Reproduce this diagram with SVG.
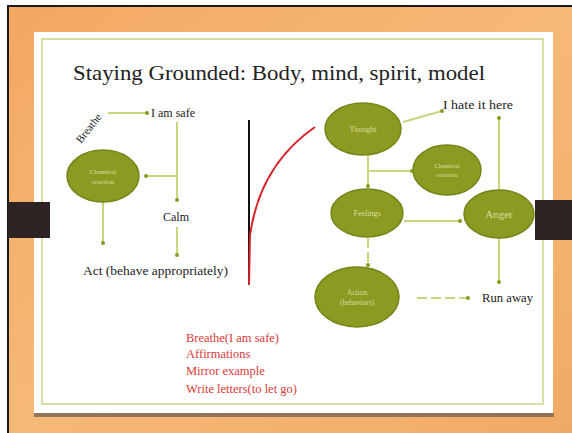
<svg xmlns="http://www.w3.org/2000/svg" width="572" height="433" viewBox="0 0 572 433">
<defs>
<linearGradient id="org" x1="0" y1="0" x2="1" y2="1">
<stop offset="0" stop-color="#f3a862"/>
<stop offset="0.5" stop-color="#f6b878"/>
<stop offset="1" stop-color="#f1aa66"/>
</linearGradient>
<marker id="dot" viewBox="0 0 6 6" refX="3" refY="3" markerWidth="4" markerHeight="4" markerUnits="userSpaceOnUse">
<circle cx="3" cy="3" r="3" fill="#8a9a22"/>
</marker>
<style>
.n{fill:#8c9a22;stroke:#76851a;stroke-width:1.5}
.nt{font-family:"Liberation Serif",serif;fill:#d9dda0;text-anchor:middle}
.c{fill:none;stroke:#c9d67e;stroke-width:2;marker-end:url(#dot)}
.cd{fill:none;stroke:#c9d67e;stroke-width:2;stroke-dasharray:10 4;marker-end:url(#dot)}
.t{font-family:"Liberation Serif",serif;fill:#222}
.r{font-family:"Liberation Serif",serif;fill:#d83a3a;font-size:12.5px}
</style>
</defs>
<rect x="0" y="0" width="572" height="433" fill="#ffffff"/>
<rect x="8" y="6" width="564" height="427" fill="url(#org)"/>
<line x1="7" y1="6" x2="572" y2="6" stroke="#1a1a1a" stroke-width="2"/>
<line x1="8" y1="6" x2="8" y2="433" stroke="#1a1a1a" stroke-width="2"/>
<rect x="34" y="413" width="520" height="4" fill="#6a5a50" opacity="0.7"/>
<rect x="34" y="32" width="519" height="381" fill="#ffffff"/>
<rect x="42" y="39" width="501" height="365" fill="none" stroke="#c8d68a" stroke-width="1.5"/>
<rect x="8" y="202" width="42" height="36" fill="#2d2322"/>
<rect x="535" y="200" width="37" height="40" fill="#2d2322"/>
<text class="t" x="73" y="80" font-size="22" textLength="412" lengthAdjust="spacingAndGlyphs">Staying Grounded: Body, mind, spirit, model</text>
<g id="connectors">
<path class="c" d="M108,113 L147,113"/>
<path class="c" d="M177,122 L177,200"/>
<path class="c" d="M177,176 L146,176"/>
<path class="c" d="M177,227 L177,255"/>
<path class="c" d="M103,202 L103,243"/>
<path class="c" d="M403,122 L442,111"/>
<path class="c" d="M368,155 L368,186"/>
<path class="c" d="M368,171 L412,171"/>
<path class="c" d="M404,221 L460,221"/>
<path class="c" d="M499,190 L499,118"/>
<path class="c" d="M499,238 L499,282"/>
<path class="cd" d="M368,238 L368,265"/>
<path class="cd" d="M417,298 L468,298"/>
<line x1="249" y1="120" x2="249" y2="285" stroke="#111" stroke-width="2"/>
<path d="M315,127 Q260,165 250,235 L249,285" fill="none" stroke="#d8232a" stroke-width="2"/>
</g>
<g id="breathe"><text class="t" font-size="11" transform="translate(81,144) rotate(-52)">Breathe</text></g>
<g id="iamsafe"><text class="t" x="151" y="117" font-size="12">I am safe</text></g>
<g id="calm"><text class="t" x="163" y="221" font-size="12">Calm</text></g>
<g id="act"><text class="t" x="83" y="275" font-size="12.5" textLength="145" lengthAdjust="spacingAndGlyphs">Act (behave appropriately)</text></g>
<g id="chem1"><ellipse class="n" cx="103" cy="176" rx="36" ry="26"/><text class="nt" font-size="7"><tspan x="103" y="174">Chemical</tspan><tspan x="103" y="184">reaction</tspan></text></g>
<g id="thought"><ellipse class="n" cx="363" cy="129" rx="38" ry="26"/><text class="nt" x="363" y="132" font-size="8">Thought</text></g>
<g id="chem2"><ellipse class="n" cx="447" cy="170" rx="34" ry="25"/><text class="nt" font-size="6.5"><tspan x="447" y="168">Chemical</tspan><tspan x="447" y="177">reaction</tspan></text></g>
<g id="feelings"><ellipse class="n" cx="367" cy="213" rx="36" ry="24"/><text class="nt" x="367" y="216" font-size="8">Feelings</text></g>
<g id="anger"><ellipse class="n" cx="499" cy="214" rx="35" ry="24"/><text class="nt" x="499" y="218" font-size="11">Anger</text></g>
<g id="actions"><ellipse class="n" cx="357" cy="297" rx="42" ry="30"/><text class="nt" font-size="7.5"><tspan x="357" y="295">Action</tspan><tspan x="357" y="305">(behaviors)</tspan></text></g>
<g id="hate"><text class="t" x="443" y="109" font-size="12.5" textLength="70" lengthAdjust="spacingAndGlyphs">I hate it here</text></g>
<g id="runaway"><text class="t" x="482" y="302" font-size="12.5" textLength="51" lengthAdjust="spacingAndGlyphs">Run away</text></g>
<g id="redlist">
<text class="r" x="186" y="342">Breathe(I am safe)</text>
<text class="r" x="186" y="358">Affirmations</text>
<text class="r" x="186" y="375">Mirror example</text>
<text class="r" x="186" y="393">Write letters(to let go)</text>
</g>
</svg>
